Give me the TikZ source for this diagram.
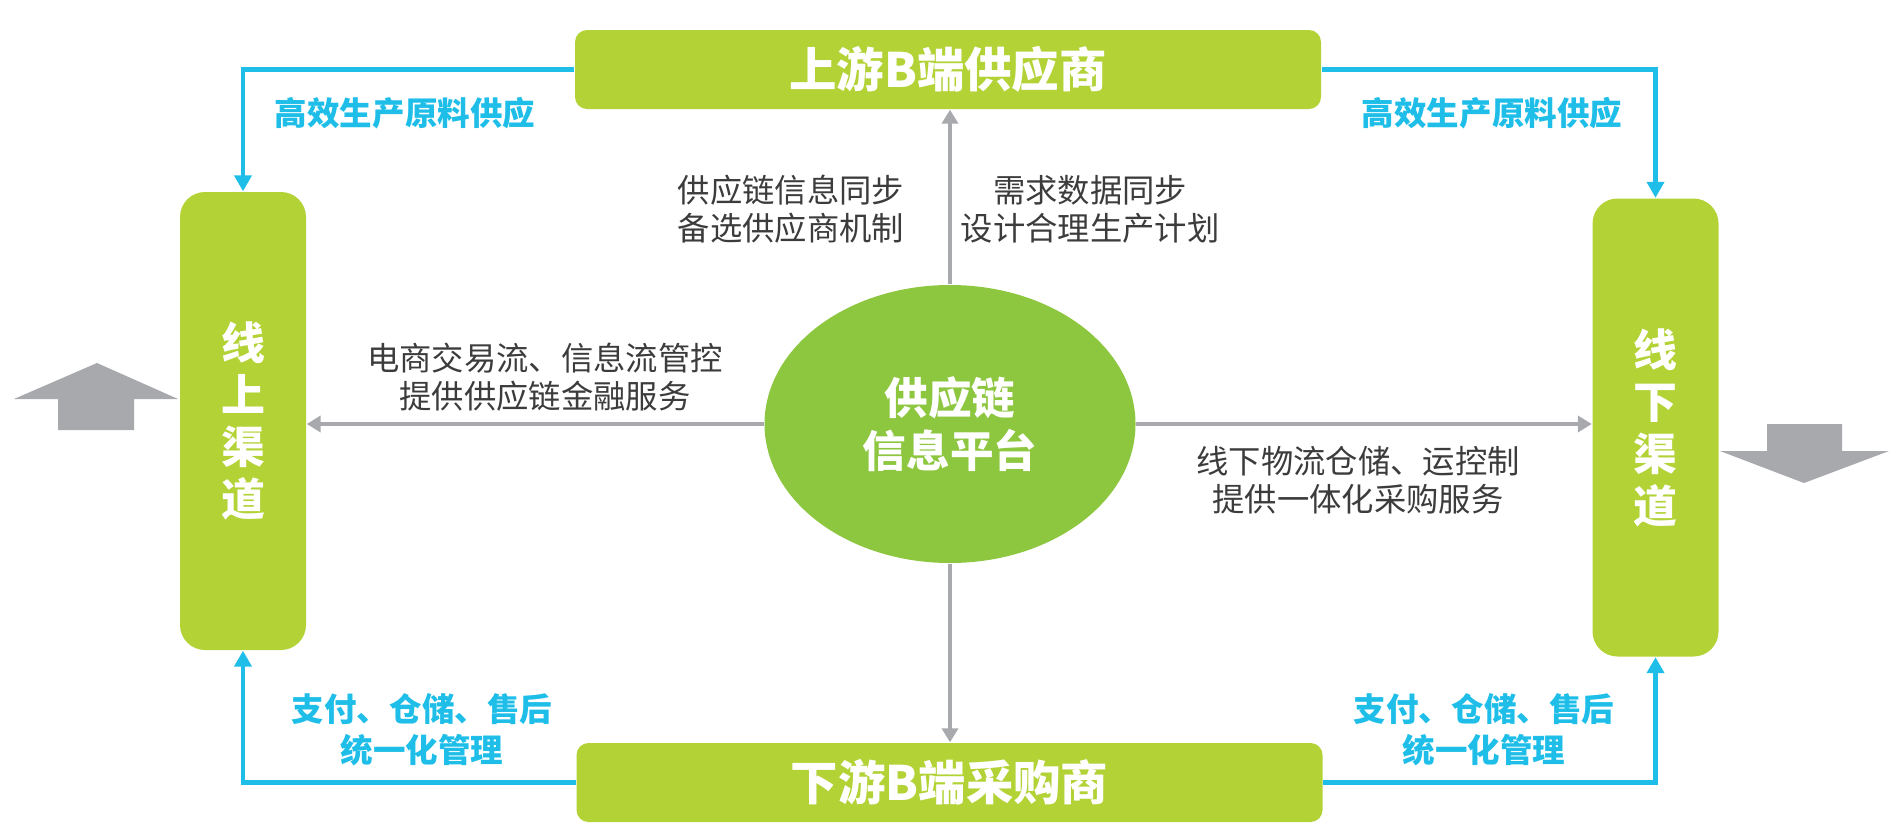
\documentclass[tikz,border=0pt]{standalone}
\usepackage{fontspec}
\newfontfamily\cjk{Noto Sans CJK SC}
\usetikzlibrary{arrows.meta,shapes.geometric}
\definecolor{boxgreen}{RGB}{178,210,53}
\definecolor{hubgreen}{RGB}{141,198,63}
\definecolor{flowblue}{RGB}{30,190,232}
\definecolor{linegray}{RGB}{167,169,172}
\definecolor{textgray}{RGB}{60,60,60}

\begin{document}
\begin{tikzpicture}[
  party/.style={fill=boxgreen, rounded corners=0.12cm, text=white, inner sep=0pt,
    minimum width=7.46cm, minimum height=0.79cm, font=\cjk\bfseries\fontsize{13.5}{16}\selectfont},
  channel/.style={fill=boxgreen, rounded corners=0.25cm, text=white, align=center, inner sep=0pt,
    minimum width=1.26cm, minimum height=4.58cm, font=\cjk\bfseries\fontsize{12.5}{14.8}\selectfont},
  note/.style={text=textgray, align=center, font=\cjk\fontsize{9.2}{10.8}\selectfont},
  flow/.style={text=flowblue, align=center, font=\cjk\bfseries\fontsize{9.25}{11.7}\selectfont},
  link/.style={draw=linegray, line width=1.15pt, -{Triangle[length=0.14cm,width=0.16cm]}},
  supply/.style={draw=flowblue, line width=1.4pt, -{Triangle[length=0.16cm,width=0.17cm]}}
]
\useasboundingbox (0,0) rectangle (18.91,8.36);

% boxes
\node[party] (upstream) at (9.48,7.665) {上游B端供应商};
\node[party] (downstream) at (9.495,0.535) {下游B端采购商};
\node[channel] (online) at (2.43,4.15) {线\\上\\渠\\道};
\node[channel] (offline) at (16.555,4.085) {线\\下\\渠\\道};
\node[ellipse, fill=hubgreen, text=white, align=center, inner sep=0pt,
  minimum width=3.71cm, minimum height=2.78cm,
  font=\cjk\bfseries\fontsize{12.4}{15}\selectfont] (hub) at (9.50,4.12) {供应链\\信息平台};

% platform links
\draw[link] (hub.north) -- (hub.north |- upstream.south);
\draw[link] (hub.south) -- (hub.south |- downstream.north);
\draw[link] (hub.west) -- (hub.west -| online.east);
\draw[link] (hub.east) -- (hub.east -| offline.west);

\node[note] (syncinfo) at (7.91,6.27) {供应链信息同步\\备选供应商机制};
\node[note] (syncdemand) at (10.90,6.27) {需求数据同步\\设计合理生产计划};
\node[note] (ecom) at (5.45,4.585) {电商交易流、信息流管控\\提供供应链金融服务};
\node[note] (logistics) at (13.58,3.56) {线下物流仓储、运控制\\提供一体化采购服务};

% supply loop
\draw[supply] (upstream.west) -| (online.north);
\draw[supply] (upstream.east) -| (offline.north);
\draw[supply] (downstream.west) -| (online.south);
\draw[supply] (downstream.east) -| (offline.south);

\node[flow] (rawleft) at (4.05,7.23) {高效生产原料供应};
\node[flow] (rawright) at (14.92,7.23) {高效生产原料供应};
\node[flow] (serviceleft) at (4.22,1.065) {支付、仓储、售后\\统一化管理};
\node[flow] (serviceright) at (14.84,1.065) {支付、仓储、售后\\统一化管理};

% side arrows
\fill[linegray] (0.14,4.37) -- (0.97,4.73) -- (1.78,4.37) -- (1.34,4.37) -- (1.34,4.06)
  -- (0.58,4.06) -- (0.58,4.37) -- cycle;
\fill[linegray] (17.67,4.12) -- (18.42,4.12) -- (18.42,3.85) -- (18.89,3.85) -- (18.04,3.53)
  -- (17.20,3.85) -- (17.67,3.85) -- cycle;
\end{tikzpicture}
\end{document}
